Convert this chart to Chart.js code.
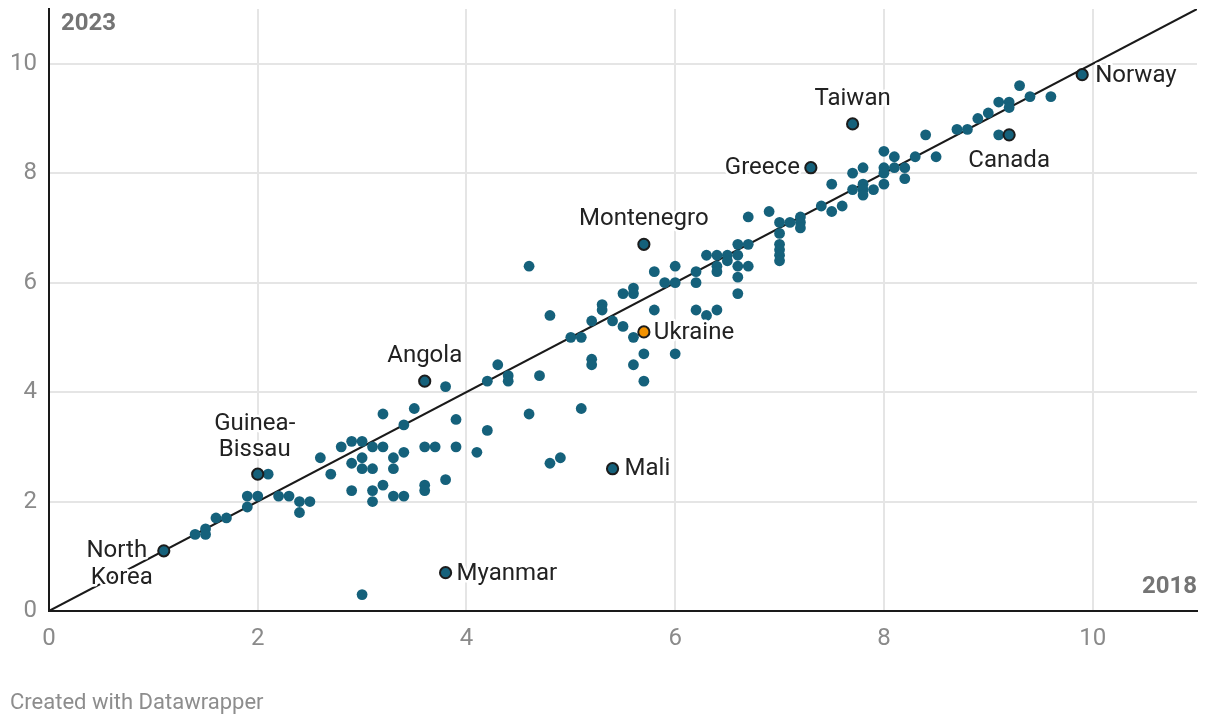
<!DOCTYPE html>
<html>
<head>
<meta charset="utf-8">
<script src="https://cdn.jsdelivr.net/npm/chart.js@4/dist/chart.umd.min.js"></script>
<style>
  html, body { margin: 0; padding: 0; background: #fff; }
  canvas { display: block; }
</style>
</head>
<body>
<canvas id="chartIndice" width="1220" height="726"></canvas>
<script>
// Ejes
const xTicks = [0, 2, 4, 6, 8, 10];
const yTicks = [0, 2, 4, 6, 8, 10];

// Países sin etiqueta (2018 / 2023)
const otrosX = [1.4, 1.5, 1.5, 1.6, 1.7, 1.9, 1.9, 2.0, 2.1, 2.2, 2.3, 2.4, 2.5, 2.4,
    2.6, 2.7, 2.8, 2.9, 3.0, 3.1, 3.2, 3.0, 2.9, 3.0, 3.1, 3.3, 3.4, 3.3, 3.6, 3.7, 3.9, 4.1, 3.8, 3.6, 3.6,
    2.9, 3.1, 3.2, 3.3, 3.4, 3.1, 3.0, 3.2, 3.5, 3.4, 3.9, 3.8, 4.2, 4.3, 4.4, 4.4, 4.7, 4.6, 4.2, 4.8, 4.9, 5.1,
    4.6, 4.8, 5.0, 5.1, 5.2, 5.3, 5.3, 5.4, 5.5, 5.5, 5.6, 5.6, 5.6, 5.2, 5.2, 5.6, 5.7, 5.7, 6.0, 5.8,
    5.8, 5.9, 6.0, 6.0, 6.2, 6.2, 6.2, 6.4, 6.3,
    6.3, 6.4, 6.5, 6.5, 6.4, 6.4, 6.6, 6.7, 6.6, 6.6, 6.7, 6.6, 6.6, 6.7, 6.9, 7.0, 7.1, 7.2, 7.2, 7.2,
    7.0, 7.0, 7.0, 7.0, 7.0,
    7.4, 7.5, 7.6, 7.5, 7.7, 7.7, 7.8, 7.8, 7.8, 7.8, 7.9, 8.0, 8.0, 8.0, 8.0, 8.1, 8.1, 8.2, 8.2, 8.3,
    8.4, 8.5, 8.7, 8.8, 8.9, 9.0, 9.1, 9.2, 9.2, 9.3, 9.4, 9.6, 9.1];
const otrosY = [1.4, 1.5, 1.4, 1.7, 1.7, 1.9, 2.1, 2.1, 2.5, 2.1, 2.1, 2.0, 2.0, 1.8,
    2.8, 2.5, 3.0, 3.1, 3.1, 3.0, 3.0, 2.8, 2.7, 2.6, 2.6, 2.8, 2.9, 2.6, 3.0, 3.0, 3.0, 2.9, 2.4, 2.3, 2.2,
    2.2, 2.2, 2.3, 2.1, 2.1, 2.0, 0.3, 3.6, 3.7, 3.4, 3.5, 4.1, 4.2, 4.5, 4.3, 4.2, 4.3, 3.6, 3.3, 2.7, 2.8, 3.7,
    6.3, 5.4, 5.0, 5.0, 5.3, 5.6, 5.5, 5.3, 5.2, 5.8, 5.9, 5.8, 5.0, 4.6, 4.5, 4.5, 4.7, 4.2, 4.7, 5.5,
    6.2, 6.0, 6.0, 6.3, 6.2, 6.0, 5.5, 5.5, 5.4,
    6.5, 6.5, 6.5, 6.4, 6.3, 6.2, 6.7, 6.7, 6.5, 6.3, 6.3, 6.1, 5.8, 7.2, 7.3, 7.1, 7.1, 7.2, 7.1, 7.0,
    6.9, 6.7, 6.6, 6.5, 6.4,
    7.4, 7.3, 7.4, 7.8, 7.7, 8.0, 8.1, 7.8, 7.7, 7.6, 7.7, 8.4, 8.1, 8.0, 7.8, 8.3, 8.1, 8.1, 7.9, 8.3,
    8.7, 8.3, 8.8, 8.8, 9.0, 9.1, 9.3, 9.3, 9.2, 9.6, 9.4, 9.4, 8.7];

// Países destacados
const paises = ['North Korea', 'Guinea-Bissau', 'Myanmar', 'Angola', 'Mali', 'Montenegro', 'Greece', 'Taiwan', 'Canada', 'Norway'];
const paisesX = [1.1, 2.0, 3.8, 3.6, 5.4, 5.7, 7.3, 7.7, 9.2, 9.9];
const paisesY = [1.1, 2.5, 0.7, 4.2, 2.6, 6.7, 8.1, 8.9, 8.7, 9.8];

const ucrania = ['Ukraine'];
const ucraniaX = [5.7];
const ucraniaY = [5.1];

// Posición de las etiquetas (solo estilo)
const estiloEtiquetas = {
    'North Korea': [{ t: 'North', dx: -47, dy: 0, a: 'center' }, { t: 'Korea', dx: -42, dy: 27, a: 'center' }],
    'Guinea-Bissau': [{ t: 'Guinea-', dx: -3, dy: -50, a: 'center' }, { t: 'Bissau', dx: -3, dy: -24, a: 'center' }],
    'Myanmar': [{ t: 'Myanmar', dx: 11, dy: 1, a: 'left' }],
    'Angola': [{ t: 'Angola', dx: 0, dy: -25, a: 'center' }],
    'Mali': [{ t: 'Mali', dx: 12, dy: 0, a: 'left' }],
    'Montenegro': [{ t: 'Montenegro', dx: 0, dy: -25, a: 'center' }],
    'Greece': [{ t: 'Greece', dx: -11, dy: 0, a: 'right' }],
    'Taiwan': [{ t: 'Taiwan', dx: 0, dy: -25, a: 'center' }],
    'Canada': [{ t: 'Canada', dx: 0, dy: 26, a: 'center' }],
    'Norway': [{ t: 'Norway', dx: 13, dy: 1, a: 'left' }],
    'Ukraine': [{ t: 'Ukraine', dx: 10, dy: 1, a: 'left' }]
};

const FUENTE = 'Roboto, "Noto Sans", sans-serif';
const TEAL = '#15617b';

function textoHalo(ctx, txt, x, y) {
    ctx.lineWidth = 5;
    ctx.lineJoin = 'round';
    ctx.strokeStyle = '#ffffff';
    ctx.strokeText(txt, x, y);
    ctx.fillText(txt, x, y);
}

const pluginEtiquetas = {
    id: 'etiquetas',
    afterDatasetsDraw(chart) {
        const ctx = chart.ctx;
        const area = chart.chartArea;
        ctx.save();
        ctx.textBaseline = 'middle';

        // etiquetas de países
        ctx.font = '24px ' + FUENTE;
        ctx.fillStyle = '#222222';
        [1, 2].forEach(idx => {
            const meta = chart.getDatasetMeta(idx);
            const nombres = idx === 1 ? paises : ucrania;
            meta.data.forEach((pt, i) => {
                const lineas = estiloEtiquetas[nombres[i]] || [];
                lineas.forEach(l => {
                    ctx.textAlign = l.a;
                    textoHalo(ctx, l.t, pt.x + l.dx, pt.y + l.dy);
                });
            });
        });

        // títulos de ejes
        ctx.font = 'bold 24px ' + FUENTE;
        ctx.fillStyle = '#747474';
        ctx.textAlign = 'left';
        textoHalo(ctx, '2023', area.left + 12, area.top + 15);
        ctx.textAlign = 'right';
        textoHalo(ctx, '2018', area.right, area.bottom - 24);
        ctx.restore();
    },
    afterDraw(chart) {
        const ctx = chart.ctx;
        ctx.save();
        ctx.font = '22px ' + FUENTE;
        ctx.fillStyle = '#8d8d8d';
        ctx.textAlign = 'left';
        ctx.textBaseline = 'middle';
        ctx.fillText('Created with Datawrapper', 10, 703);
        ctx.restore();
    }
};

const fondoBlanco = {
    id: 'fondo',
    beforeDraw(chart) {
        const ctx = chart.ctx;
        ctx.save();
        ctx.fillStyle = '#ffffff';
        ctx.fillRect(0, 0, chart.width, chart.height);
        ctx.restore();
    }
};

const puntos = (xs, ys) => xs.map((x, i) => ({ x: x, y: ys[i] }));

new Chart(document.getElementById('chartIndice'), {
    type: 'scatter',
    data: {
        datasets: [{
            label: 'otros',
            data: puntos(otrosX, otrosY),
            backgroundColor: TEAL,
            pointRadius: 5.4,
            pointBorderWidth: 0,
            order: 2
        }, {
            label: 'destacados',
            data: puntos(paisesX, paisesY),
            backgroundColor: TEAL,
            borderColor: '#1c1c1c',
            pointRadius: 5.6,
            pointBorderWidth: 2,
            order: 1
        }, {
            label: 'Ukraine',
            data: puntos(ucraniaX, ucraniaY),
            backgroundColor: '#f39200',
            borderColor: '#1c1c1c',
            pointRadius: 5.6,
            pointBorderWidth: 2,
            order: 0
        }, {
            type: 'line',
            label: 'diagonal',
            data: [{ x: 0, y: 0 }, { x: 11, y: 11 }],
            borderColor: '#1a1a1a',
            borderWidth: 2,
            pointRadius: 0,
            fill: false,
            order: 3
        }]
    },
    options: {
        responsive: false,
        devicePixelRatio: 1,
        animation: false,
        layout: {
            padding: { top: 9, right: 23, bottom: 75, left: 0 }
        },
        plugins: {
            legend: { display: false },
            tooltip: { enabled: false }
        },
        scales: {
            x: {
                type: 'linear',
                min: 0,
                max: 11,
                afterBuildTicks: s => { s.ticks = xTicks.map(v => ({ value: v })); },
                afterFit: s => {
                    s.height = 40;
                    s.paddingLeft = 0;
                    s.paddingRight = 0;
                },
                grid: { color: '#e5e5e5', lineWidth: 2, drawTicks: false },
                border: { color: '#1a1a1a', width: 2 },
                ticks: {
                    font: { family: FUENTE, size: 24 },
                    color: '#8a8a8a',
                    padding: 14
                }
            },
            y: {
                type: 'linear',
                min: 0,
                max: 11,
                afterBuildTicks: s => { s.ticks = yTicks.map(v => ({ value: v })); },
                afterFit: s => {
                    s.width = 49;
                    s.paddingTop = 0;
                    s.paddingBottom = 0;
                },
                grid: { color: '#e5e5e5', lineWidth: 2, drawTicks: false },
                border: { color: '#1a1a1a', width: 2 },
                ticks: {
                    font: { family: FUENTE, size: 24 },
                    color: '#8a8a8a',
                    padding: 12
                }
            }
        }
    },
    plugins: [fondoBlanco, pluginEtiquetas]
});
</script>
</body>
</html>
